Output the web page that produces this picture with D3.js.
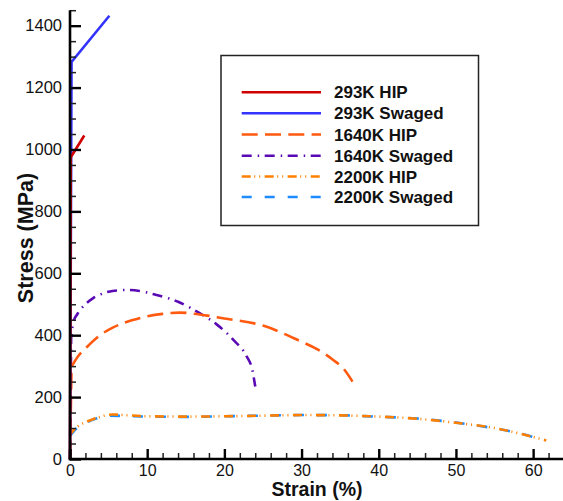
<!DOCTYPE html>
<html>
<head>
<meta charset="utf-8">
<script src="https://cdn.jsdelivr.net/npm/d3@7"></script>
<style>
  html, body { margin: 0; padding: 0; background: #fff; }
  svg { display: block; }
  text { font-family: "Liberation Sans", Arial, sans-serif; }
</style>
</head>
<body>
<svg id="chart" width="563" height="501"></svg>
<script>
// ---- Data (strain %, stress MPa) ----
const seriesNames = ["293K HIP", "293K Swaged", "1640K HIP", "1640K Swaged", "2200K HIP", "2200K Swaged"];

const hip293 = [[0, 0], [0.1, 975], [1.85, 1045]];
const swaged293 = [[0, 0], [0.2, 1283], [5.1, 1432]];
const hip1640 = [[0, 0], [0.2, 298], [1, 330], [2.2, 362], [3.9, 400], [5.6, 425], [8, 448], [10, 461],
  [12, 469], [14.2, 473], [16.8, 467], [20, 454], [25, 431], [29.8, 381], [32, 355], [34.1, 320], [35.5, 290], [36.6, 250]];
const swaged1640 = [[0, 0], [0.15, 390], [0.4, 440], [1, 470], [2, 500], [3, 520], [4.3, 535], [5.5, 543], [7.3, 546],
  [9, 543], [11.2, 530], [14, 508], [16.8, 471], [19, 435], [21.2, 384], [22.9, 331], [23.6, 290], [24, 234]];
const hip2200 = [[0, 0], [0.1, 82], [0.5, 94], [1.3, 110], [2.3, 122], [3.5, 133], [5.5, 144], [7, 142], [10, 138],
  [15, 137], [20, 138], [25, 140], [30, 142], [35, 141], [40, 137], [45, 130], [50, 117], [55, 100], [58, 84], [61.7, 60]];
const swaged2200 = [[0, 0], [0.1, 78], [0.65, 94], [2.3, 120], [3.5, 132], [5.2, 140], [7, 139], [10, 137],
  [15, 136], [20, 138], [25, 140], [30, 142], [35.8, 141], [39.3, 137], [44.9, 131], [51.4, 113], [55, 99], [57.9, 85], [61.3, 62]];

const seriesData = [hip293, swaged293, hip1640, swaged1640, hip2200, swaged2200];

const xMajorTicks = [0, 10, 20, 30, 40, 50, 60];
const yMajorTicks = [0, 200, 400, 600, 800, 1000, 1200, 1400];

// ---- Styles ----
const colors = ["#d10000", "#3333ff", "#ff5a0f", "#5a0ab4", "#ff8000", "#1e8cff"];
const dashes = [null, null, "16 7.3", "10 6 1.5 5.5", "9 3.5 1 4 1 4.5", "10 13"];

const svg = d3.select("#chart");
const x = d3.scaleLinear().domain([0, 64]).range([70, 564]);
const y = d3.scaleLinear().domain([0, 1450]).range([459, 10.2]);

// ---- Curves: straight elastic segment, then smooth plastic curve ----
const smooth = d3.line().x(d => x(d[0])).y(d => y(d[1])).curve(d3.curveMonotoneX);
const straight = d3.line().x(d => x(d[0])).y(d => y(d[1]));
function pathFor(pts, i) {
  if (i < 2) return straight(pts);
  const rest = smooth(pts.slice(1));
  return `M${x(pts[0][0])},${y(pts[0][1])}L` + rest.slice(1);
}
[5, 4, 3, 2, 1, 0].forEach(i => {
  svg.append("path")
    .attr("d", pathFor(seriesData[i], i))
    .attr("fill", "none")
    .attr("stroke", colors[i])
    .attr("stroke-width", 2.6)
    .attr("stroke-dasharray", dashes[i]);
});

// ---- Axes ----
const xMinor = d3.range(0, 63, 2).filter(v => v % 10 !== 0);
const yMinor = d3.range(0, 1451, 50).filter(v => v % 200 !== 0);

const gx = svg.append("g").attr("transform", `translate(0,${y(0)})`);
gx.call(d3.axisBottom(x).tickValues(xMinor).tickSize(-6).tickFormat(""))
  .call(g => g.selectAll(".tick line").attr("stroke", "#222").attr("stroke-width", 1.5))
  .call(g => g.select(".domain").remove());
const gx2 = svg.append("g").attr("transform", `translate(0,${y(0)})`);
gx2.call(d3.axisBottom(x).tickValues(xMajorTicks).tickSize(-10).tickPadding(10).tickFormat(d3.format("d")))
  .call(g => g.selectAll(".tick line").attr("stroke", "#000").attr("stroke-width", 2.4))
  .call(g => g.select(".domain").remove())
  .call(g => g.selectAll(".tick text").attr("font-size", "16px").attr("fill", "#111")
    .attr("font-family", "'Liberation Sans', Arial, sans-serif").attr("dy", "0.71em").attr("y", 5.5));

const gy = svg.append("g").attr("transform", `translate(${x(0)},0)`);
gy.call(d3.axisLeft(y).tickValues(yMinor).tickSize(-6).tickFormat(""))
  .call(g => g.selectAll(".tick line").attr("stroke", "#222").attr("stroke-width", 1.5))
  .call(g => g.select(".domain").remove());
const gy2 = svg.append("g").attr("transform", `translate(${x(0)},0)`);
gy2.call(d3.axisLeft(y).tickValues(yMajorTicks).tickSize(-11).tickPadding(8).tickFormat(d3.format("d")))
  .call(g => g.selectAll(".tick line").attr("stroke", "#000").attr("stroke-width", 2.4))
  .call(g => g.select(".domain").remove())
  .call(g => g.selectAll(".tick text").attr("font-size", "16.5px").attr("fill", "#111")
    .attr("font-family", "'Liberation Sans', Arial, sans-serif").attr("x", -8));

// axis lines
svg.append("line").attr("x1", x(0)).attr("x2", x(0)).attr("y1", y(0) + 1.2).attr("y2", y(1450))
  .attr("stroke", "#000").attr("stroke-width", 2.6);
svg.append("line").attr("x1", x(0) - 1.2).attr("x2", x(64)).attr("y1", y(0)).attr("y2", y(0))
  .attr("stroke", "#000").attr("stroke-width", 2.6);

// axis titles
svg.append("text").attr("x", 317).attr("y", 496).attr("text-anchor", "middle")
  .attr("font-size", "19.5px").attr("font-weight", "bold").attr("fill", "#111").text("Strain (%)");
svg.append("text").attr("transform", "translate(33,238) rotate(-90)").attr("text-anchor", "middle")
  .attr("font-size", "21.5px").attr("font-weight", "bold").attr("fill", "#111").text("Stress (MPa)");

// ---- Legend ----
const lg = svg.append("g");
lg.append("rect").attr("x", 221).attr("y", 55.5).attr("width", 257.5).attr("height", 170)
  .attr("fill", "#fff").attr("stroke", "#222").attr("stroke-width", 1.5);
const rowY = [92.3, 113.3, 134.5, 155.7, 176.5, 197];
seriesNames.forEach((name, i) => {
  lg.append("line").attr("x1", 241.7).attr("x2", 321).attr("y1", rowY[i]).attr("y2", rowY[i])
    .attr("stroke", colors[i]).attr("stroke-width", 2.6).attr("stroke-dasharray", dashes[i]);
  lg.append("text").attr("x", 334).attr("y", rowY[i]).attr("dy", "0.36em")
    .attr("font-size", "17px").attr("font-weight", "bold").attr("fill", "#111").text(name);
});
</script>
</body>
</html>
